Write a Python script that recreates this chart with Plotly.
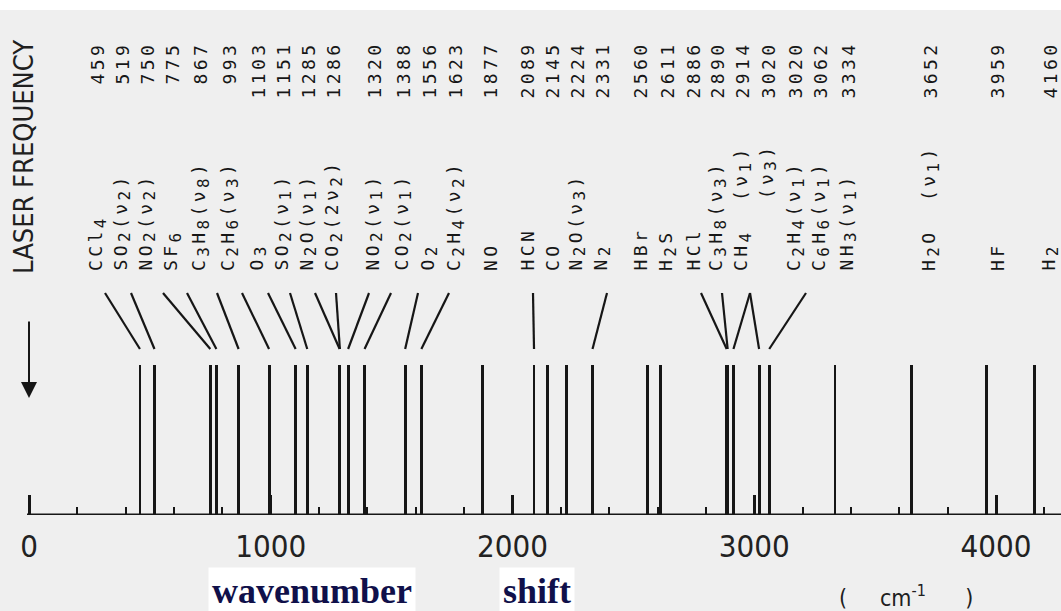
import plotly.graph_objects as go

NB = "\u00a0"


def sub(s):
    # typewriter-style subscript: lowered but almost full size
    return f'<sub><span style="font-size:16px">{s}</span></sub>'


def nu(k):
    return f"(ν{sub(k)})"


# Raman shifts (cm^-1) of common gases excited by the laser line
shifts = [459, 519, 750, 775, 867, 993, 1103, 1151, 1285, 1286, 1320, 1388, 1556, 1623,
          1877, 2089, 2145, 2224, 2331, 2560, 2611, 2886, 2890, 2914, 3020, 3020, 3062,
          3334, 3652, 3959, 4160]
species = [
    "CCl" + sub("4"), "SO" + sub("2") + nu("2"), "NO" + sub("2") + nu("2"),
    "SF" + sub("6"), "C" + sub("3") + "H" + sub("8") + nu("8"),
    "C" + sub("2") + "H" + sub("6") + nu("3"), "O" + sub("3"),
    "SO" + sub("2") + nu("1"), "N" + sub("2") + "O" + nu("1"),
    "CO" + sub("2") + "(2ν" + sub("2") + ")", "NO" + sub("2") + nu("1"),
    "CO" + sub("2") + nu("1"), "O" + sub("2"), "C" + sub("2") + "H" + sub("4") + nu("2"),
    "NO", "HCN", "CO", "N" + sub("2") + "O" + nu("3"), "N" + sub("2"), "HBr",
    "H" + sub("2") + "S", "HCl", "C" + sub("3") + "H" + sub("8") + nu("3"),
    "CH" + sub("4") + NB + NB + nu("1"), NB * 5 + nu("3"),
    "C" + sub("2") + "H" + sub("4") + nu("1"), "C" + sub("6") + "H" + sub("6") + nu("1"),
    "NH" + sub("3") + nu("1"), "H" + sub("2") + "O" + NB + NB + nu("1"), "HF", "H" + sub("2"),
]
intensity = [1.0, 1.0, 1.0, 1.0, 1.0, 1.0, 1.0, 1.0, 1.0, 1.0, 1.0, 1.0, 1.0, 1.0, 1.0, 1.0,
             1.0, 1.0, 1.0, 1.0, 1.0, 1.0, 1.0, 1.0, 1.0, 1.0, 1.0, 1.0, 1.0, 1.0, 1.0]
tick_values = [0, 1000, 2000, 3000, 4000]
tick_labels = ["0", "1000", "2000", "3000", "4000"]

# ---- page geometry (pixels) ----
W, H = 1061, 611
BASE_PX = 515          # baseline, from top
UNIT_PX = 150          # height of a unit-intensity line
ORIGIN_PX = 29         # where 0 cm^-1 sits
PX_PER_CM = 0.24175

# label columns (pixel x) and leader start points (None = no leader)
label_col_px = [97, 122, 147, 172, 200, 229, 258, 283, 308, 333, 374, 403, 429, 455,
                490, 527, 552, 577, 602, 640, 667, 693, 717, 742, 768, 795, 820,
                848, 930, 997, 1050]
leader_top_px = [105, 131, 163, 187, 217, 242, 268, 290, 315, 336, 369, 391, 418, 449,
                 None, 533, None, None, 607, None, None, 701, 722, 750, 750, None, 806,
                 None, None, None, None]


def cm_from_px(px):
    return (px - ORIGIN_PX) / PX_PER_CM


def ydata(py):
    return (BASE_PX - py) / UNIT_PX


def ypaper(py):
    return (BASE_PX - py) / BASE_PX


MONO = "DejaVu Sans Mono, monospace"
NARROW = "Liberation Sans Narrow, Arial Narrow, DejaVu Sans Condensed, Liberation Sans, sans-serif"
SERIF = "Liberation Serif, Times New Roman, serif"
INK = "#161616"


def spaced(s):
    return f'<span style="letter-spacing:3.4px">{s}</span>'


fig = go.Figure()
fig.add_trace(go.Bar(x=shifts, y=intensity, width=12,
                     marker=dict(color=INK, line=dict(width=0)), hoverinfo="skip"))

shapes = [
    # paper edge at the top
    dict(type="rect", xref="paper", yref="paper", x0=0, x1=1, y0=ypaper(10), y1=ypaper(-5),
         fillcolor="white", line=dict(width=0), layer="below"),
    # baseline of the spectrum
    dict(type="line", xref="x", yref="y", x0=cm_from_px(27), x1=cm_from_px(W + 5), y0=0, y1=0,
         line=dict(color=INK, width=3)),
]
annotations = []

for v, name, col, top in zip(shifts, species, label_col_px, leader_top_px):
    xc = col / W
    annotations.append(dict(xref="paper", yref="paper", x=xc, y=ypaper(40), text=spaced(str(v)),
                            textangle=-90, xanchor="center", yanchor="top", showarrow=False,
                            font=dict(family=MONO, size=18, color=INK)))
    annotations.append(dict(xref="paper", yref="paper", x=xc, y=ypaper(273), text=spaced(name),
                            textangle=-90, xanchor="center", yanchor="bottom", showarrow=False,
                            font=dict(family=MONO, size=18, color=INK)))
    if top is not None:
        shapes.append(dict(type="line", xref="x", yref="y", x0=cm_from_px(top), y0=ydata(293),
                           x1=v, y1=ydata(349), line=dict(color=INK, width=2.2)))

# side caption and the arrow below it
annotations.append(dict(xref="paper", yref="paper", x=23 / W, y=ypaper(38),
                        text="LASER FREQUENCY", textangle=-90, xanchor="center", yanchor="top",
                        showarrow=False, font=dict(family=NARROW, size=27, color="#202020")))
annotations.append(dict(xref="x", yref="y", x=0, y=ydata(398), ax=0, ay=-78, text="",
                        showarrow=True, arrowhead=2, arrowsize=1.6, arrowwidth=2,
                        arrowcolor=INK))

# axis caption
for word, cx in (("wavenumber", 312), ("shift", 537)):
    annotations.append(dict(xref="paper", yref="paper", x=cx / W, y=ypaper(591), text=word,
                            xanchor="center", yanchor="middle", showarrow=False,
                            bgcolor="white", borderpad=3,
                            font=dict(family=SERIF, size=36, color="#10104a", weight="bold")))
annotations.append(dict(xref="paper", yref="paper", x=906 / W, y=ypaper(596),
                        text="(" + NB * 5 + "cm<sup>-1</sup>" + NB * 6 + ")",
                        xanchor="center", yanchor="middle", showarrow=False,
                        font=dict(family=NARROW, size=23, color="#202020")))

fig.update_layout(
    width=W, height=H,
    margin=dict(l=0, r=0, t=0, b=H - BASE_PX, pad=0),
    paper_bgcolor="#efefef", plot_bgcolor="rgba(0,0,0,0)",
    showlegend=False, bargap=0, barmode="overlay",
    shapes=shapes, annotations=annotations,
    xaxis=dict(range=[cm_from_px(0), cm_from_px(W)], tickvals=tick_values, ticktext=tick_labels,
               ticks="inside", ticklen=20, tickwidth=2.5, tickcolor=INK,
               minor=dict(dtick=200, tick0=0, ticks="inside", ticklen=8, tickwidth=2,
                          tickcolor=INK),
               showgrid=False, zeroline=False, showline=False, ticklabelstandoff=10,
               tickfont=dict(family=NARROW, size=31, color="#222222")),
    yaxis=dict(range=[0, BASE_PX / UNIT_PX], visible=False, showgrid=False, zeroline=False),
)

fig.write_html("out.html")
